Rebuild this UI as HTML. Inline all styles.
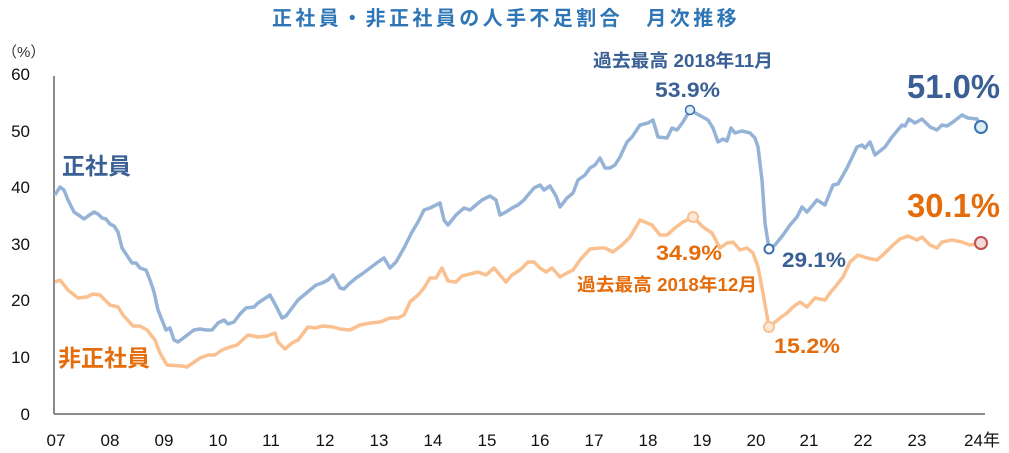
<!DOCTYPE html><html><head><meta charset="utf-8"><style>body{margin:0;background:#fff}svg{display:block}text{font-family:"Liberation Sans","Noto Sans CJK JP",sans-serif}</style></head><body>
<svg width="1009" height="453" viewBox="0 0 1009 453">
<text x="506" y="25" text-anchor="middle" font-size="20" font-weight="bold" fill="#2e75b6" letter-spacing="3.4">正社員・非正社員の人手不足割合　月次推移</text>
<text x="2" y="57" font-size="15" fill="#333">（%）</text>
<g font-size="17" fill="#111" text-anchor="end">
<text x="30" y="80">60</text><text x="30" y="137">50</text><text x="30" y="193">40</text><text x="30" y="250">30</text><text x="30" y="306">20</text><text x="30" y="363">10</text><text x="30" y="420">0</text></g>
<line x1="54" y1="76" x2="54" y2="414" stroke="#666" stroke-width="1.5"/>
<line x1="54" y1="414" x2="985" y2="414" stroke="#666" stroke-width="1.5"/>
<g font-size="17" fill="#111" text-anchor="middle">
<text x="56" y="446">07</text><text x="110" y="446">08</text><text x="164" y="446">09</text><text x="218" y="446">10</text><text x="271" y="446">11</text><text x="325" y="446">12</text><text x="379" y="446">13</text><text x="433" y="446">14</text><text x="487" y="446">15</text><text x="540" y="446">16</text><text x="594" y="446">17</text><text x="648" y="446">18</text><text x="702" y="446">19</text><text x="756" y="446">20</text><text x="809" y="446">21</text><text x="863" y="446">22</text><text x="917" y="446">23</text><text x="982" y="446">24年</text></g>
<polyline fill="none" stroke="#95b3d7" stroke-width="3.5" stroke-linejoin="round" points="55,195 60,187 64,190 68,200 74,212 80,216 84,219 88,216 94,212 98,214 102,218 106,219 110,224 114,226 118,232 122,248 128,257 132,263 136,263 140,268 146,270 150,280 154,292 158,310 162,320 166,330 170,328 174,340 178,342 186,336 194,330 200,329 206,330 212,330 218,323 224,320 228,324 234,322 240,314 246,308 254,307 258,303 264,299 270,295 276,306 282,318 286,316 292,308 298,300 304,295 310,290 316,285 322,283 328,280 333,275 340,288 344,289 350,283 356,278 362,274 370,268 378,262 384,258 390,268 396,262 404,248 412,232 418,222 424,210 430,208 436,205 440,203 444,220 448,225 456,215 464,208 470,210 476,205 482,200 490,196 496,200 500,215 506,212 512,208 518,205 524,200 528,195 534,188 540,185 544,190 550,186 556,196 560,207 567,198 573,193 578,180 585,175 590,168 595,165 600,158 605,168 610,168 615,165 620,157 627,142 632,137 640,125 648,123 653,120 658,137 667,138 672,128 677,130 683,122 690,110 708,120 713,128 718,142 723,139 727,141 731,128 735,133 742,131 750,133 755,138 758,147 762,180 765,223 769,249 775,245 783,235 790,225 797,217 802,207 807,212 817,200 825,205 833,185 838,184 847,168 857,147 862,145 865,148 870,142 875,155 885,147 892,137 902,125 905,126 909,119 915,123 922,119 930,127 937,130 942,125 947,126 953,122 962,115 968,118 977,119 981,127"/>
<polyline fill="none" stroke="#fac090" stroke-width="3.5" stroke-linejoin="round" points="55,282 60,280 68,290 78,298 87,297 93,294 100,295 110,305 118,307 123,315 133,326 140,326 147,330 155,340 160,353 167,365 182,366 187,367 200,358 208,355 215,355 222,350 230,347 237,345 248,335 258,337 267,336 275,333 278,342 285,349 292,343 298,340 308,327 315,328 323,326 333,327 340,329 350,330 360,325 370,323 380,322 390,318 398,318 404,315 410,302 418,295 424,288 430,278 436,278 442,268 448,281 456,282 462,276 470,274 478,272 486,275 494,268 500,275 506,282 512,275 520,270 528,262 534,262 540,268 546,272 552,268 560,277 567,273 573,270 580,260 590,249 600,248 605,248 613,252 622,245 630,237 640,220 652,225 660,235 667,235 675,228 683,222 693,217 703,227 712,233 720,248 727,243 733,242 740,250 747,248 753,253 758,267 763,293 769,327 780,318 787,313 793,307 800,302 807,307 815,298 825,300 830,293 835,287 843,277 850,262 858,255 867,258 877,260 885,253 893,245 900,239 908,236 917,240 922,237 930,245 937,248 942,242 952,240 962,242 970,245 981,243"/>
<circle cx="690" cy="110" r="4.5" fill="#dbeef4" stroke="#3a6fb0" stroke-width="1.5"/>
<circle cx="769" cy="249" r="4.5" fill="#fff" stroke="#3a6fb0" stroke-width="2"/>
<circle cx="981" cy="127" r="6" fill="#dbeef4" stroke="#3a6fb0" stroke-width="2"/>
<circle cx="693" cy="217" r="5" fill="#fde9d9" stroke="#fac090" stroke-width="2"/>
<circle cx="769" cy="327" r="5" fill="#fde9d9" stroke="#fac090" stroke-width="2"/>
<circle cx="981" cy="243" r="6" fill="#f2dcdb" stroke="#c0504d" stroke-width="2"/>
<g font-weight="bold">
<text x="62" y="174" font-size="23" fill="#3a5f95">正社員</text>
<text x="58" y="366" font-size="23" fill="#e46c0a">非正社員</text>
<text x="593" y="67" font-size="18" fill="#3a5f95" textLength="180" lengthAdjust="spacingAndGlyphs">過去最高 2018年11月</text>
<text x="655" y="97" font-size="21" fill="#3a5f95" textLength="65" lengthAdjust="spacingAndGlyphs">53.9%</text>
<text x="907" y="98" font-size="33" fill="#3a5f95" textLength="93" lengthAdjust="spacingAndGlyphs">51.0%</text>
<text x="907" y="217" font-size="33" fill="#e46c0a" textLength="93" lengthAdjust="spacingAndGlyphs">30.1%</text>
<text x="656" y="260" font-size="21" fill="#e46c0a" textLength="66" lengthAdjust="spacingAndGlyphs">34.9%</text>
<text x="782" y="267" font-size="21" fill="#3a5f95" textLength="64" lengthAdjust="spacingAndGlyphs">29.1%</text>
<text x="577" y="291" font-size="18" fill="#e46c0a" textLength="180" lengthAdjust="spacingAndGlyphs">過去最高 2018年12月</text>
<text x="774" y="353" font-size="21" fill="#e46c0a" textLength="66" lengthAdjust="spacingAndGlyphs">15.2%</text>
</g>
</svg></body></html>
